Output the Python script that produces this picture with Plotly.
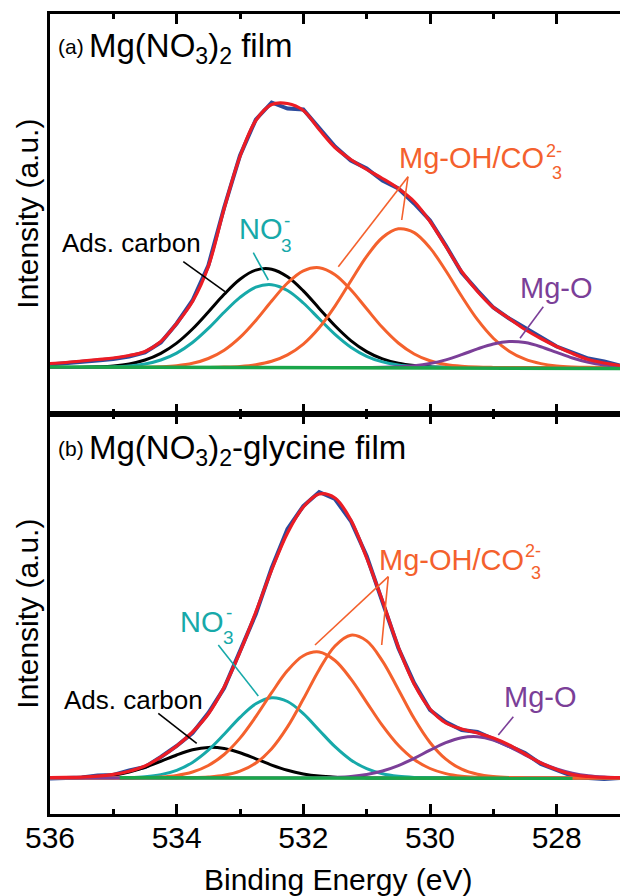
import plotly.graph_objects as go

# ---------------- data ----------------
energy = [536.0, 535.75, 535.5, 535.25, 535.0, 534.75, 534.5, 534.25, 534.0, 533.75,
          533.5, 533.25, 533.0, 532.75, 532.5, 532.25, 532.0, 531.75, 531.5, 531.25,
          531.0, 530.75, 530.5, 530.25, 530.0, 529.75, 529.5, 529.25, 529.0, 528.75,
          528.5, 528.25, 528.0, 527.75, 527.5, 527.25, 527.0]

# panel (a) Mg(NO3)2 film
a_data = [3, 4, 5.5, 7, 8.5, 11, 15, 25, 44, 67, 102, 160, 212, 248, 265, 259, 258, 239, 221, 207,
          199, 187, 179, 164, 147, 122, 95, 77, 60, 49, 40, 30, 21, 15, 9, 6, 2]
a_envelope = [4, 5, 6.5, 8, 9.5, 12, 16, 26, 44, 66, 101, 159, 211, 247, 263, 264, 257, 238, 220, 208,
              198, 189, 179, 166, 146, 121, 96, 76, 60, 49, 38, 29, 21, 14, 8, 4.5, 2]
a_carbon = [0.0, 0.1, 0.2, 0.7, 1.6, 3.6, 7.5, 14.2, 24.4, 38.5, 55.5, 73.2, 88.3, 97.4, 98.3, 90.7,
            76.6, 59.1, 41.7, 26.9, 15.9, 8.6, 4.2, 1.9, 0.8, 0.3, 0.1, 0, 0, 0, 0, 0, 0, 0, 0, 0, 0]
a_nitrate = [0, 0, 0.1, 0.2, 0.6, 1.5, 3.5, 7.5, 14.4, 25.0, 39.1, 55.2, 70.1, 80.3, 82.8, 77.0,
             64.5, 48.7, 33.1, 20.3, 11.2, 5.6, 2.5, 1.0, 0.4, 0.1, 0, 0, 0, 0, 0, 0, 0, 0, 0, 0, 0]
a_oh1 = [0, 0, 0, 0, 0, 0.1, 0.2, 0.7, 1.8, 4.2, 9.0, 17.3, 30.1, 47.1, 66.5, 84.5, 96.7, 99.8,
         92.8, 77.7, 58.7, 39.9, 24.5, 13.5, 6.7, 3.0, 1.2, 0.4, 0.1, 0, 0, 0, 0, 0, 0, 0, 0]
a_oh2 = [0, 0, 0, 0, 0, 0, 0, 0, 0, 0, 0.1, 0.4, 1.1, 2.8, 6.2, 12.6, 23.4, 39.7, 61.4, 86.5,
         111.1, 130.0, 138.7, 134.9, 119.6, 96.7, 71.2, 47.8, 29.3, 16.3, 8.3, 3.9, 1.6, 0.6, 0.2, 0.1, 0]
a_mgo = [0, 0, 0, 0, 0, 0, 0, 0, 0, 0, 0, 0, 0, 0, 0, 0, 0, 0, 0, 0,
         0.1, 0.2, 0.7, 1.8, 4.0, 7.6, 12.8, 18.6, 23.5, 25.9, 24.9, 20.8, 15.1, 9.5, 5.2, 2.5, 1.0]
a_bg_x = [536.0, 527.0]
a_bg = [0.5, -1.0]

# panel (b) Mg(NO3)2-glycine film
b_data = [-0.5, 0, 0.5, 2.5, 3, 7.5, 11, 21, 32, 45, 65, 90, 127, 164, 210, 249, 272, 286, 279, 257,
          222, 176, 130, 95, 68, 56, 48, 46, 39, 32, 25, 14, 8, 2, 0, -1, 0]
b_envelope = [0.5, 0.6, 0.9, 1.8, 3.6, 6.8, 12, 21, 32, 46, 64, 91, 126, 166, 208, 245, 271, 284, 280, 258,
              220, 177, 131, 94, 69, 55, 49, 45, 40, 33, 24, 15, 8.5, 3.5, 1.5, 0.6, 0.3]
b_carbon = [0.1, 0.2, 0.5, 1.4, 3.0, 6.0, 10.6, 16.6, 23.0, 28.2, 30.6, 29.5, 25.3, 19.2, 12.9, 7.7,
            4.1, 1.9, 0.8, 0.3, 0.1, 0, 0, 0, 0, 0, 0, 0, 0, 0, 0, 0, 0, 0, 0, 0, 0]
b_nitrate = [0, 0, 0, 0, 0.1, 0.4, 1.3, 3.4, 7.7, 15.6, 27.8, 43.7, 60.6, 74.2, 80.2, 76.5, 64.4,
             47.8, 31.3, 18.1, 9.3, 4.2, 1.7, 0.6, 0.2, 0, 0, 0, 0, 0, 0, 0, 0, 0, 0, 0, 0]
b_oh1 = [0, 0, 0, 0, 0, 0.1, 0.4, 1.0, 2.6, 6.0, 12.5, 23.5, 39.9, 61.4, 85.3, 107.4, 122.3, 126.0,
         117.5, 99.1, 75.7, 52.3, 32.7, 18.5, 9.5, 4.4, 1.8, 0.7, 0.2, 0, 0, 0, 0, 0, 0, 0, 0]
b_oh2 = [0, 0, 0, 0, 0, 0, 0, 0, 0.1, 0.3, 1.0, 2.7, 6.8, 14.9, 29.3, 51.1, 78.9, 108.3, 132.0, 142.8,
         137.1, 116.9, 88.5, 59.4, 35.5, 18.8, 8.8, 3.7, 1.4, 0.4, 0.1, 0, 0, 0, 0, 0, 0]
b_mgo = [0, 0, 0, 0, 0, 0, 0, 0, 0, 0, 0, 0, 0, 0, 0, 0, 0.1, 0.2, 0.7, 1.6,
         3.6, 7.0, 12.4, 19.6, 27.8, 35.3, 40.3, 41.3, 38.0, 31.3, 23.1, 15.3, 9.1, 4.9, 2.3, 1.0, 0.4]
b_bg_x = [534.9, 527.75]
b_bg = [0.3, -0.3]

x_ticks = [536, 534, 532, 530, 528]

# ---------------- styling ----------------
FONT = "Liberation Sans, Arial, Helvetica, sans-serif"
C_DATA = "#2C4A9C"
C_ENV = "#EC1C24"
C_CARB = "#000000"
C_NIT = "#17A9A9"
C_OH = "#F4612D"
C_MGO = "#7B3F98"
C_BG = "#1AA64A"

# pixel helpers for decorations (plot area: x 50..620, y 14..814)
def ex(px):
    return 536 - (px - 50) / (570 / 9)

def va(py):
    return 367.5 - py

def vb(py):
    return 778 - py

fig = go.Figure()

def add_panel(xa, ya, data, env, carb, nit, oh1, oh2, mgo, bgx, bg):
    fig.add_trace(go.Scatter(x=energy, y=data, mode="lines", xaxis=xa, yaxis=ya,
                             line=dict(color=C_DATA, width=4), showlegend=False))
    for vals, col in [(carb, C_CARB), (nit, C_NIT), (oh1, C_OH), (oh2, C_OH), (mgo, C_MGO)]:
        fig.add_trace(go.Scatter(x=energy, y=vals, mode="lines", xaxis=xa, yaxis=ya,
                                 line=dict(color=col, width=3, shape="spline", smoothing=1.0),
                                 showlegend=False))
    fig.add_trace(go.Scatter(x=bgx, y=bg, mode="lines", xaxis=xa, yaxis=ya,
                             line=dict(color=C_BG, width=3.5), showlegend=False))
    fig.add_trace(go.Scatter(x=energy, y=env, mode="lines", xaxis=xa, yaxis=ya,
                             line=dict(color=C_ENV, width=3.2, shape="spline", smoothing=1.0),
                             showlegend=False))

add_panel("x2", "y2", a_data, a_envelope, a_carbon, a_nitrate, a_oh1, a_oh2, a_mgo, a_bg_x, a_bg)
add_panel("x", "y", b_data, b_envelope, b_carbon, b_nitrate, b_oh1, b_oh2, b_mgo, b_bg_x, b_bg)

xaxis_common = dict(
    range=[536, 527], showline=True, linewidth=3, linecolor="black", mirror="ticks",
    ticks="inside", ticklen=10, tickwidth=3, tickcolor="black",
    tickvals=x_ticks, showgrid=False, zeroline=False,
    minor=dict(dtick=1, tick0=527, ticks="inside", ticklen=5, tickwidth=3,
               tickcolor="black", showgrid=False),
    tickfont=dict(family=FONT, size=30, color="black"),
)
yaxis_common = dict(showline=True, linewidth=3, linecolor="black", mirror=False,
                    ticks="", showticklabels=False, showgrid=False, zeroline=False)

fig.update_layout(
    width=620, height=896,
    margin=dict(l=50, r=0, t=14, b=82),
    paper_bgcolor="white", plot_bgcolor="white",
    font=dict(family=FONT, color="black"),
    xaxis=dict(**xaxis_common, domain=[0, 1], anchor="y", showticklabels=True,
               ticklabelstandoff=-5),
    xaxis2=dict(**xaxis_common, domain=[0, 1], anchor="y2", matches="x", showticklabels=False),
    yaxis=dict(**yaxis_common, domain=[0, 0.5], anchor="x", range=[-36, 364]),
    yaxis2=dict(**yaxis_common, domain=[0.5, 1], anchor="x2", range=[-46.5, 353.5]),
)

ann = []
shapes = []

def text(xr, yr, x, y, s, size, color="black", xanchor="left"):
    ann.append(dict(xref=xr, yref=yr, x=x, y=y, text=s, showarrow=False,
                    xanchor=xanchor, yanchor="middle",
                    font=dict(family=FONT, size=size, color=color)))

def seg(xr, yr, p0, p1, color, conv):
    shapes.append(dict(type="line", xref=xr, yref=yr,
                       x0=ex(p0[0]), y0=conv(p0[1]), x1=ex(p1[0]), y1=conv(p1[1]),
                       line=dict(color=color, width=1.6)))

# panel (a)
text("x2", "y2", ex(56), va(46), "(a)", 21)
text("x2", "y2", ex(87), va(48), "Mg(NO<sub>3</sub>)<sub>2</sub> film", 33)
text("x2", "y2", ex(131), va(243), "Ads. carbon", 26, xanchor="center")
seg("x2", "y2", (183.3, 261.7), (225, 291.7), C_CARB, va)
text("x2", "y2", ex(236.7), va(229), "NO", 29, C_NIT)
text("x2", "y2", ex(286.5), va(220), "-", 19, C_NIT, xanchor="center")
text("x2", "y2", ex(286.5), va(245), "3", 19, C_NIT, xanchor="center")
seg("x2", "y2", (253.3, 252.7), (268.3, 280), C_NIT, va)
text("x2", "y2", ex(396.7), va(158), "Mg-OH/CO", 29, C_OH)
text("x2", "y2", ex(554), va(151), "2-", 18, C_OH, xanchor="center")
text("x2", "y2", ex(557), va(173), "3", 18, C_OH, xanchor="center")
seg("x2", "y2", (408, 176.7), (401.7, 220), C_OH, va)
seg("x2", "y2", (408, 176.7), (338.3, 266.7), C_OH, va)
text("x2", "y2", ex(556.5), va(288), "Mg-O", 29, C_MGO, xanchor="center")
seg("x2", "y2", (543.3, 306.7), (520, 338.3), C_MGO, va)

# panel (b)
text("x", "y", ex(56), vb(448), "(b)", 21)
text("x", "y", ex(87), vb(450), "Mg(NO<sub>3</sub>)<sub>2</sub>-glycine film", 33)
text("x", "y", ex(133.3), vb(699.5), "Ads. carbon", 26, xanchor="center")
seg("x", "y", (158.3, 713.3), (196.7, 743.3), C_CARB, vb)
text("x", "y", ex(178.3), vb(622), "NO", 29, C_NIT)
text("x", "y", ex(228.5), vb(612), "-", 19, C_NIT, xanchor="center")
text("x", "y", ex(228.5), vb(637), "3", 19, C_NIT, xanchor="center")
seg("x", "y", (218.3, 645), (258.3, 696), C_NIT, vb)
text("x", "y", ex(376.7), vb(560), "Mg-OH/CO", 29, C_OH)
text("x", "y", ex(533), vb(551), "2-", 18, C_OH, xanchor="center")
text("x", "y", ex(536), vb(573), "3", 18, C_OH, xanchor="center")
seg("x", "y", (388.3, 576.7), (381.7, 645), C_OH, vb)
seg("x", "y", (388.3, 576.7), (315, 645), C_OH, vb)
text("x", "y", ex(540.8), vb(697), "Mg-O", 29, C_MGO, xanchor="center")
seg("x", "y", (513.3, 716.7), (498.3, 735), C_MGO, vb)

# axis titles
for yc in (0.75, 0.25):
    ann.append(dict(xref="paper", yref="paper", x=-0.041, y=yc, text="Intensity (a.u.)",
                    textangle=-90, showarrow=False, xanchor="center", yanchor="middle",
                    font=dict(family=FONT, size=30, color="black")))
ann.append(dict(xref="paper", yref="paper", x=0.506, y=-0.08125, text="Binding Energy (eV)",
                showarrow=False, xanchor="center", yanchor="middle",
                font=dict(family=FONT, size=30, color="black")))

fig.update_layout(annotations=ann, shapes=shapes)
fig.write_html("out.html")
